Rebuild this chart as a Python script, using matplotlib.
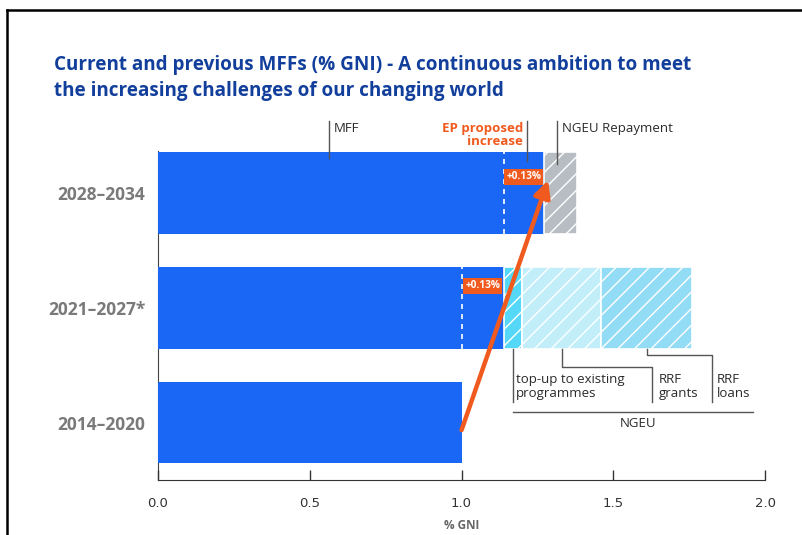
import numpy as np
import matplotlib
matplotlib.use('Agg')
import matplotlib.pyplot as plt
from matplotlib.lines import Line2D

plt.rcParams['font.family'] = ['Open Sans', 'DejaVu Sans']
plt.rcParams['hatch.linewidth'] = 1.0

# Data (% GNI)
periods = ['2014–2020', '2021–2027*', '2028–2034']
mff_base = np.array([1.00, 1.00, 1.14])
ep_increase = np.array([0.00, 0.14, 0.13])
topup = np.array([0.00, 0.06, 0.00])
rrf_grants = np.array([0.00, 0.26, 0.00])
rrf_loans = np.array([0.00, 0.30, 0.00])
ngeu_repayment = np.array([0.00, 0.00, 0.11])
increase_labels = ['', '+0.13%', '+0.13%']

blue = '#1a66f5'
orange = '#f05a1e'
line_col = '#555555'
txt_col = '#2a2a2a'

fig = plt.figure(figsize=(8.02, 5.35), dpi=100)
ax = fig.add_axes([0.197, 0.1028, 0.757, 0.615])

y = np.arange(len(periods))
h = 0.71
mff_total = mff_base + ep_increase

ax.barh(y, mff_total, height=h, color=blue, zorder=2)
left = mff_total.copy()
segs = [(topup, '#55d8f7'), (rrf_grants, '#c2eefa'), (rrf_loans, '#93dcf6'),
        (ngeu_repayment, '#b8bdc3')]
for vals, col in segs:
    m = vals > 0
    ax.barh(y[m], vals[m], left=left[m], height=h, color=col, edgecolor='white',
            linewidth=1.2, hatch='//', zorder=2)
    left = left + vals

# dashed lines at the base and the +0.13% boxes
for i in range(len(periods)):
    if ep_increase[i] > 0:
        ax.plot([mff_base[i]] * 2, [y[i] - h / 2, y[i] + h / 2], color='white',
                ls=(0, (3, 3)), lw=1.2, zorder=3)
        ax.text(mff_base[i] + ep_increase[i] / 2, y[i] + (0.19 if i == 1 else 0.14),
                increase_labels[i], color='white', fontsize=7.3, fontweight='bold',
                ha='center', va='center', zorder=4,
                bbox=dict(boxstyle='square,pad=0.22', fc=orange, ec='none'))

# arrow
ax.annotate('', xy=(1.285, 2.11), xytext=(1.0, -0.065),
            arrowprops=dict(arrowstyle='-|>', color=orange, lw=3.2,
                            mutation_scale=25, shrinkA=0, shrinkB=0), zorder=5)

# top labels
top = y[2] + h / 2
ax.plot([0.563, 0.563], [top - 0.05, top + 0.27], color=line_col, lw=1, clip_on=False)
ax.text(0.58, top + 0.21, 'MFF', fontsize=9.5, color=txt_col, va='center')
ax.plot([1.217, 1.217], [top - 0.08, top + 0.27], color=line_col, lw=1, clip_on=False)
ax.text(1.202, top + 0.15, 'EP proposed\nincrease', fontsize=9.5, color=orange,
        fontweight='bold', ha='right', va='center', linespacing=1.0)
ax.plot([1.314, 1.314], [top - 0.1, top + 0.27], color=line_col, lw=1, clip_on=False)
ax.text(1.332, top + 0.21, 'NGEU Repayment', fontsize=9.5, color=txt_col, va='center')

# NGEU leader lines
bot = y[1] - h / 2
x_tu = mff_total[1] + topup[1] / 2
x_gr = mff_total[1] + topup[1] + rrf_grants[1] / 2
x_ln = mff_total[1] + topup[1] + rrf_grants[1] + rrf_loans[1] / 2
ax.plot([x_tu, x_tu], [bot, 0.18], color=line_col, lw=1)
ax.plot([x_gr, x_gr, 1.627, 1.627], [bot, 0.48, 0.48, 0.18], color=line_col, lw=1)
ax.plot([x_ln, x_ln, 1.825, 1.825], [bot, 0.59, 0.59, 0.18], color=line_col, lw=1)
ax.text(1.18, 0.31, 'top-up to existing\nprogrammes', fontsize=9.5, color=txt_col,
        va='center', linespacing=1.1)
ax.text(1.65, 0.31, 'RRF\ngrants', fontsize=9.5, color=txt_col, va='center', linespacing=1.1)
ax.text(1.84, 0.31, 'RRF\nloans', fontsize=9.5, color=txt_col, va='center', linespacing=1.1)
ax.plot([x_tu, 1.96], [0.09, 0.09], color=line_col, lw=1)
ax.text(1.58, -0.005, 'NGEU', fontsize=9.5, color=txt_col, ha='center', va='center')

# axes styling
ax.set_xlim(0, 2.0)
ax.set_ylim(-0.5, 2.365)
ax.set_yticks(y)
ax.set_yticklabels(periods, fontsize=12.5, fontweight='bold', color='#7a7a7a')
ax.tick_params(axis='y', length=0, pad=9)
ax.set_xticks([0.0, 0.5, 1.0, 1.5, 2.0])
ax.set_xticklabels(['0.0', '0.5', '1.0', '1.5', '2.0'], fontsize=9.5, color='#333333',
                   family=['Liberation Sans Narrow', 'DejaVu Sans'])
ax.tick_params(axis='x', direction='in', length=7, width=1, color='#333333', pad=12)
ax.set_xlabel('% GNI', fontsize=8.5, color='#666666', fontweight='bold', labelpad=7)
for s in ['top', 'right']:
    ax.spines[s].set_visible(False)
ax.spines['left'].set_color('#444444')
ax.spines['bottom'].set_color('#333333')
ax.spines['left'].set_zorder(1)

fig.text(0.067, 0.855, 'Current and previous MFFs (% GNI) - A continuous ambition to meet\n'
         'the increasing challenges of our changing world', fontsize=13.6, fontweight='bold',
         color='#123f9c', va='center', linespacing=1.4)

# outer frame
fig.add_artist(Line2D([0.0087, 0.0087], [0, 0.981], color='black', lw=1.8))
fig.add_artist(Line2D([0.0087, 1.0], [0.981, 0.981], color='black', lw=1.8))

fig.savefig('out.png', dpi=100)
